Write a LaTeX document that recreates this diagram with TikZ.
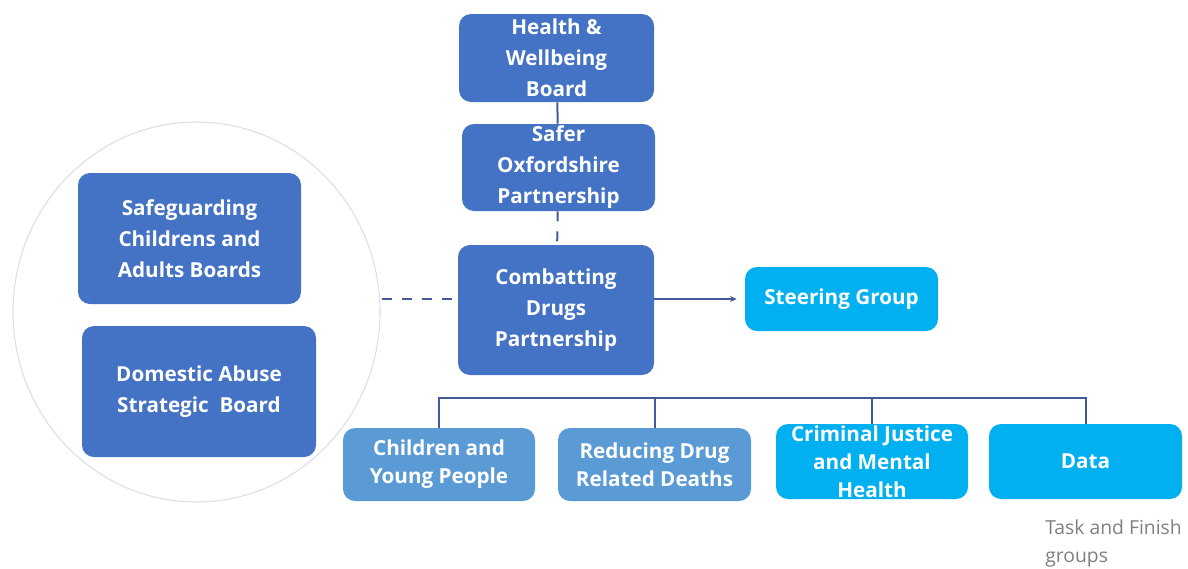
\documentclass[tikz,border=0pt]{standalone}
\usepackage{fontspec}
\setmainfont{Open Sans}
\usetikzlibrary{arrows.meta,shapes.geometric}

\definecolor{boarddark}{HTML}{4472C4}
\definecolor{groupmid}{HTML}{5B9BD5}
\definecolor{grouplight}{HTML}{00B0F0}
\definecolor{linkblue}{HTML}{44599A}
\definecolor{ringgrey}{HTML}{DDDCEA}
\definecolor{notegrey}{HTML}{7F7F7F}

\tikzset{
  box/.style={rectangle, rounded corners=9pt, draw=none, text=white, align=center,
    inner sep=0pt, font=\bfseries\fontsize{15.5}{23.25}\selectfont},
  lowbox/.style={box, font=\bfseries\fontsize{15.5}{21}\selectfont},
  link/.style={draw=linkblue, line width=1.5pt},
  dashlink/.style={draw=linkblue, line width=1.5pt, dash pattern=on 7.5pt off 7.5pt},
}

\begin{document}
\begin{tikzpicture}[x=0.75pt,y=0.75pt,yscale=-1,xscale=1]
\useasboundingbox (0,0) rectangle (1188,568);

%Shape: Ellipse round the two boards
\node [ellipse, draw=ringgrey, line width=0.8pt, minimum width=275.25pt, minimum height=285pt, inner sep=0pt] (ring) at (196.5,312) {};

%Shape: Boxes, top of the tree
\node [box, fill=boarddark, minimum width=146.25pt, minimum height=66pt] (hwb) at (556.5,58) {Health \&\\Wellbeing\\Board};
\node [box, fill=boarddark, minimum width=144.75pt, minimum height=65.25pt] (sop) at (558.5,167.5) {Safer\\Oxfordshire\\Partnership};
\node [box, fill=boarddark, minimum width=147pt, minimum height=97.5pt] (cdp) at (556,310) {Combatting\\Drugs\\Partnership};
\node [box, fill=grouplight, minimum width=144.75pt, minimum height=48pt] (sg) at (841.5,299) {Steering Group};

%Shape: Boxes inside the ellipse
\node [box, fill=boarddark, minimum width=167.25pt, minimum height=98.25pt] (scab) at (189.5,238.5) {Safeguarding\\Childrens and\\Adults Boards};
\node [box, fill=boarddark, minimum width=175.5pt, minimum height=98.25pt] (dasb) at (199,391.5) {Domestic Abuse\\Strategic~ Board};

%Shape: Task and finish groups
\node [lowbox, fill=groupmid, minimum width=144pt, minimum height=54.75pt] (cyp) at (439,464.5) {Children and\\Young People};
\node [lowbox, fill=groupmid, minimum width=144.75pt, minimum height=54.75pt] (rdd) at (654.5,464.5) {Reducing Drug\\Related Deaths};
\node [lowbox, fill=grouplight, minimum width=144pt, minimum height=56.25pt] (cjmh) at (872,461.5) {Criminal Justice\\and Mental\\Health};
\node [lowbox, fill=grouplight, minimum width=144.75pt, minimum height=56.25pt] (data) at (1085.5,461.5) {Data};

% Text Node
\node [anchor=north west, inner sep=0pt, align=left, text=notegrey, font=\fontsize{14.5}{21}\selectfont] (tfg) at (1045,520) {Task and Finish\\groups};

%Straight Lines
\draw [link] (hwb) -- (sop);
\draw [dashlink] (sop) -- (cdp);
\draw [dashlink, shorten <=4.5pt] (cdp.west |- sg.west) -- (ring.east |- sg.west);
\draw [link, line width=1.2pt, -{Stealth[length=5pt,width=4.5pt]}, shorten >=6pt] (cdp.east |- sg.west) -- (sg.west);

%Straight Lines: bus to the groups
\coordinate (bus) at (0,398);
\draw [link] (cyp.north) |- (bus -| data.north) -- (data.north);
\draw [link] (rdd.north) -- (rdd.north |- bus);
\draw [link] (cjmh.north) -- (cjmh.north |- bus);

\end{tikzpicture}
\end{document}
